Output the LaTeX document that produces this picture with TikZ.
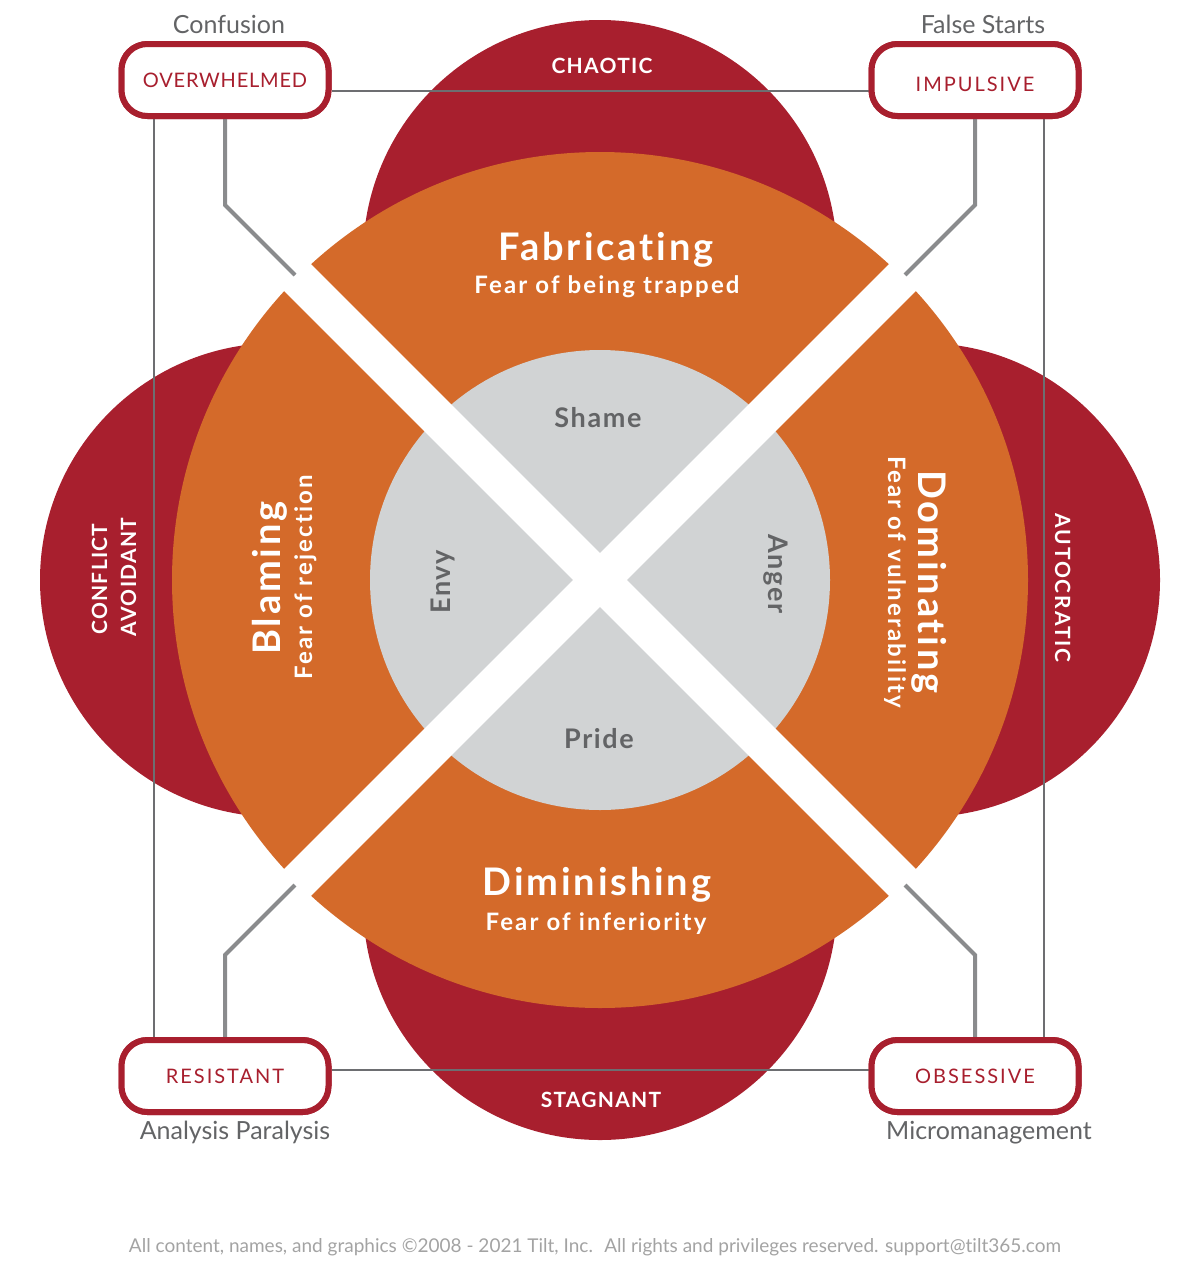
\documentclass[tikz,border=0pt]{standalone}
\usepackage{fontspec}
\setmainfont{Lato}[Ligatures=NoCommon]
\usetikzlibrary{calc}
\definecolor{tred}{HTML}{A81F2E}
\definecolor{torange}{HTML}{D46A2A}
\definecolor{tgray}{HTML}{D1D3D4}
\definecolor{ttext}{HTML}{636466}
\definecolor{tconn}{HTML}{8A8B8D}
\definecolor{tframe}{HTML}{6D6E71}
\definecolor{tfoot}{HTML}{A3A3A3}
\begin{document}
\begin{tikzpicture}[x=1pt,y=-1pt,
  box/.style={draw=tred, line width=6pt, rounded corners=26pt, minimum width=207pt, minimum height=72pt, fill=white, inner sep=0pt, text=tred, font=\fontsize{20}{20}\selectfont\addfontfeatures{LetterSpace=10,Ligatures=NoCommon}},
  conn/.style={draw=tconn, line width=4pt},
  frameline/.style={draw=tframe, line width=1.5pt},
  band/.style={draw=white, line width=38pt},
  lbl/.style={text=ttext, font=\fontsize{25}{25}\selectfont, anchor=base, inner sep=0pt},
  big/.style={text=white, font=\fontsize{38}{38}\selectfont\bfseries\addfontfeatures{LetterSpace=7.5,Ligatures=NoCommon}, anchor=base, inner sep=0pt},
  sub/.style={text=white, font=\fontsize{24}{24}\selectfont\bfseries\addfontfeatures{LetterSpace=9,Ligatures=NoCommon}, anchor=base, inner sep=0pt},
  caps/.style={text=white, font=\fontsize{21}{21}\selectfont\bfseries\addfontfeatures{LetterSpace=6,Ligatures=NoCommon}, anchor=base, inner sep=0pt},
  emo/.style={text=ttext, font=\fontsize{27}{27}\selectfont\bfseries\addfontfeatures{LetterSpace=6,Ligatures=NoCommon}, anchor=base, inner sep=0pt},
  foot/.style={text=tfoot, font=\fontsize{19}{19}\selectfont, anchor=base, inner sep=0pt}
]
\useasboundingbox (0,0) rectangle (1200,1266);
% outer red circles
\fill[tred] (600,257) circle (237);
\fill[tred] (600,903) circle (237);
\fill[tred] (277,580) circle (237);
\fill[tred] (923,580) circle (237);
% boxes (placed first so that lines can refer to them)
\node[box] (ow) at (225,80) {\addfontfeatures{LetterSpace=4}OVERWHELMED};
\node[box] (im) at (975,80) {\raisebox{-11pt}[0pt][0pt]{IMPULSIVE}};
\node[box] (rs) at (225,1076) {RESISTANT};
\node[box] (ob) at (975,1076) {OBSESSIVE};
% frame lines
\draw[frameline] (ow.east |- 0,91) -- (im.west |- 0,91);
\draw[frameline] (ow.south -| 154,0) -- (rs.north -| 154,0);
\draw[frameline] (im.south -| 1044,0) -- (ob.north -| 1044,0);
\draw[frameline] (rs.east |- 0,1070) -- (ob.west |- 0,1070);
% orange ring and gray core
\coordinate (c) at (600,580);
\fill[torange] (c) circle (428);
\fill[tgray] (c) circle (230);
\coordinate (e1) at (295,275);
\coordinate (e2) at (905,275);
\coordinate (e3) at (295,885);
\coordinate (e4) at (905,885);
\draw[band] (e1) -- (e4);
\draw[band] (e2) -- (e3);
% connectors
\coordinate (b1) at (225,205);
\coordinate (b2) at (975,205);
\coordinate (b3) at (225,955);
\coordinate (b4) at (975,955);
\draw[conn] (ow.south) -- (b1) -- (e1);
\draw[conn] (im.south) -- (b2) -- (e2);
\draw[conn] (rs.north) -- (b3) -- (e3);
\draw[conn] (ob.north) -- (b4) -- (e4);
% redraw boxes on top
\node[box] at (225,80) {\addfontfeatures{LetterSpace=4}OVERWHELMED};
\node[box] at (975,80) {\raisebox{-11pt}[0pt][0pt]{IMPULSIVE}};
\node[box] at (225,1076) {RESISTANT};
\node[box] at (975,1076) {OBSESSIVE};
% outer labels
\node[lbl] (t1) at (229,33) {Confusion};
\node[lbl] (t2) at (983,33) {False Starts};
\node[lbl] (t3) at (235,1139) {Analysis Paralysis};
\node[lbl] (t4) at (989,1139) {Micromanagement};
% red region labels
\node[caps] (r1) at (602,73) {CHAOTIC};
\node[caps] (r2) at (601,1107) {STAGNANT};
\node[caps, rotate=90] (r3) at (107,579) {CONFLICT};
\node[caps, rotate=90] (r4) at (136,577) {AVOIDANT};
\node[caps, rotate=-90, font=\fontsize{21}{21}\selectfont\bfseries\addfontfeatures{LetterSpace=9,Ligatures=NoCommon}] (r5) at (1055,588) {AUTOCRATIC};
% orange labels
\node[big] (o1) at (606,260) {Fabricating};
\node[sub] (o1s) at (607,293) {Fear of being trapped};
\node[big] (o2) at (597,895) {Diminishing};
\node[sub] (o2s) at (596,930) {Fear of inferiority};
\node[big, rotate=90] (o3) at (280,578) {Blaming};
\node[sub, rotate=90] (o3s) at (312,577) {Fear of rejection};
\node[big, rotate=-90] (o4) at (918,582) {Dominating};
\node[sub, rotate=-90] (o4s) at (888,582) {Fear of vulnerability};
% core labels
\node[emo] (g1) at (598,427) {Shame};
\node[emo] (g2) at (599,748) {Pride};
\node[emo, rotate=90] (g3) at (450,582) {Envy};
\node[emo, rotate=-90] (g4) at (768,574) {Anger};
% footer
\node[foot] (ft) at (595,1252) {All content, names, and graphics ©2008 - 2021 Tilt, Inc.\hspace{0.6em}All rights and privileges reserved. support@tilt365.com};
\end{tikzpicture}
\end{document}
